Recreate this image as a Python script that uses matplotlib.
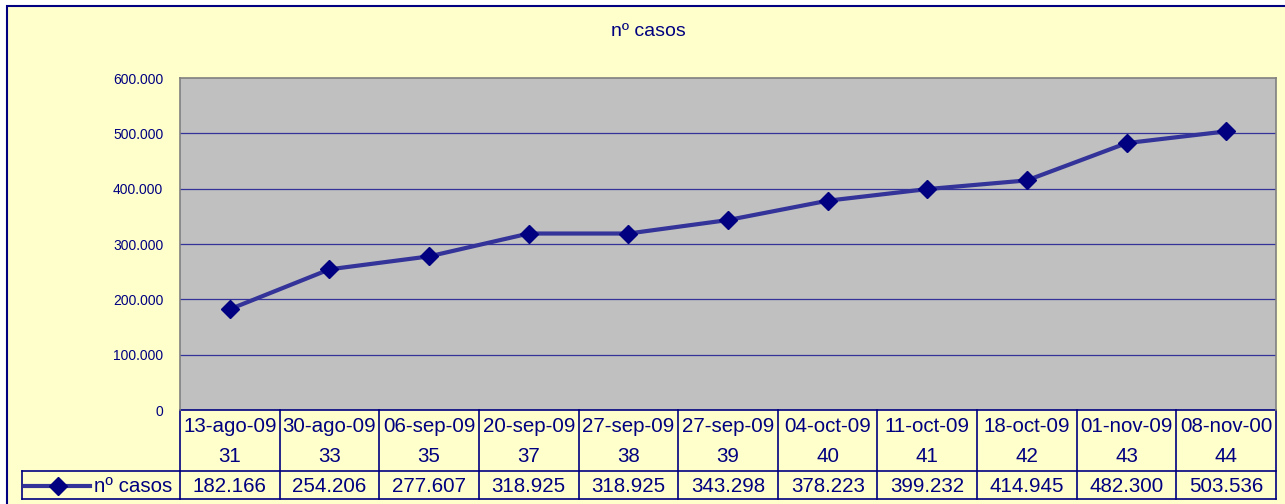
import matplotlib.pyplot as plt
from matplotlib.patches import Rectangle
from matplotlib.lines import Line2D
from matplotlib.ticker import FuncFormatter

fechas = ["13-ago-09", "30-ago-09", "06-sep-09", "20-sep-09", "27-sep-09", "27-sep-09",
          "04-oct-09", "11-oct-09", "18-oct-09", "01-nov-09", "08-nov-00"]
semanas = ["31", "33", "35", "37", "38", "39", "40", "41", "42", "43", "44"]
casos = [182166, 254206, 277607, 318925, 318925, 343298, 378223, 399232, 414945, 482300, 503536]

NAVY = "#000080"
LINEA = "#333399"
FONDO = "#FFFFCC"

plt.rcParams["font.family"] = ["Liberation Sans", "DejaVu Sans"]


def miles(v, pos=None):
    return f"{int(v):,}".replace(",", ".")


W, H = 1285, 504
fig = plt.figure(figsize=(W / 100, H / 100), dpi=100, facecolor="white")

# marco del area del grafico
fig.patches.append(Rectangle((7 / W, -0.05), 1.1, 1 - 6 / H + 0.05, transform=fig.transFigure,
                             facecolor=FONDO, edgecolor=NAVY, linewidth=1.5, zorder=-1))

x0, x1, ytop, ybot = 180, 1276, 78, 410
ax = fig.add_axes([x0 / W, 1 - ybot / H, (x1 - x0) / W, (ybot - ytop) / H])
ax.set_zorder(1)
ax.set_facecolor("#C0C0C0")

xs = list(range(len(casos)))
ax.plot(xs, casos, color=LINEA, linewidth=3, marker="D", markersize=9,
        markerfacecolor=NAVY, markeredgecolor=NAVY, zorder=3)

ax.set_xlim(-0.5, len(casos) - 0.5)
ax.set_ylim(0, 600000)
ax.set_yticks(range(0, 600001, 100000))
ax.yaxis.set_major_formatter(FuncFormatter(miles))
ax.tick_params(axis="y", length=0, pad=12, labelsize=10, labelcolor=NAVY)
ax.set_xticks([])
for y in range(100000, 600000, 100000):
    ax.axhline(y, color=LINEA, linewidth=0.9, zorder=1)
for s in ["left", "top", "right"]:
    ax.spines[s].set_color("#808080")
    ax.spines[s].set_linewidth(1.2)
ax.spines["bottom"].set_visible(False)

fig.text(648 / W, 1 - 32 / H, "nº casos", ha="center", va="center", fontsize=14, color=NAVY)

# tabla de datos debajo del eje
ph = ybot - ytop
r0, r1, r2 = 0, -(471 - ybot) / ph, -(499 - ybot) / ph
tr = ax.get_xaxis_transform()
fs = 14.8
kw = dict(transform=tr, color=NAVY, linewidth=1.2, clip_on=False)
ax.add_line(Line2D([-0.5, len(casos) - 0.5], [r0, r0], **kw))
ax.add_line(Line2D([-0.5, len(casos) - 0.5], [r1, r1], **kw))
ax.add_line(Line2D([-0.5, len(casos) - 0.5], [r2, r2], **kw))
for i in range(len(casos) + 1):
    ax.add_line(Line2D([i - 0.5, i - 0.5], [r0, r2], **kw))
for i, (f, s, v) in enumerate(zip(fechas, semanas, casos)):
    ax.text(i, -(426 - ybot) / ph, f, transform=tr, ha="center", va="center", fontsize=fs, color=NAVY)
    ax.text(i, -(456 - ybot) / ph, s, transform=tr, ha="center", va="center", fontsize=fs, color=NAVY)
    ax.text(i, -(486 - ybot) / ph, miles(v), transform=tr, ha="center", va="center", fontsize=fs, color=NAVY)

# celda de la leyenda
lx = (22 - x0) / (x1 - x0)
ta = ax.transAxes
kw2 = dict(transform=ta, color=NAVY, linewidth=1.2, clip_on=False)
ax.add_line(Line2D([lx, 0], [r1, r1], **kw2))
ax.add_line(Line2D([lx, 0], [r2, r2], **kw2))
ax.add_line(Line2D([lx, lx], [r1, r2], **kw2))
ym = -(486 - ybot) / ph
ax.add_line(Line2D([(25 - x0) / (x1 - x0), (90 - x0) / (x1 - x0)], [ym, ym], transform=ta,
                   color=LINEA, linewidth=3, clip_on=False))
ax.add_line(Line2D([(58 - x0) / (x1 - x0)], [ym], transform=ta, marker="D", markersize=9,
                   markerfacecolor=NAVY, markeredgecolor=NAVY, clip_on=False))
ax.text((94 - x0) / (x1 - x0), ym, "nº casos", transform=ta, ha="left", va="center",
        fontsize=fs, color=NAVY)

fig.savefig("out.png", dpi=100, facecolor=fig.get_facecolor())
